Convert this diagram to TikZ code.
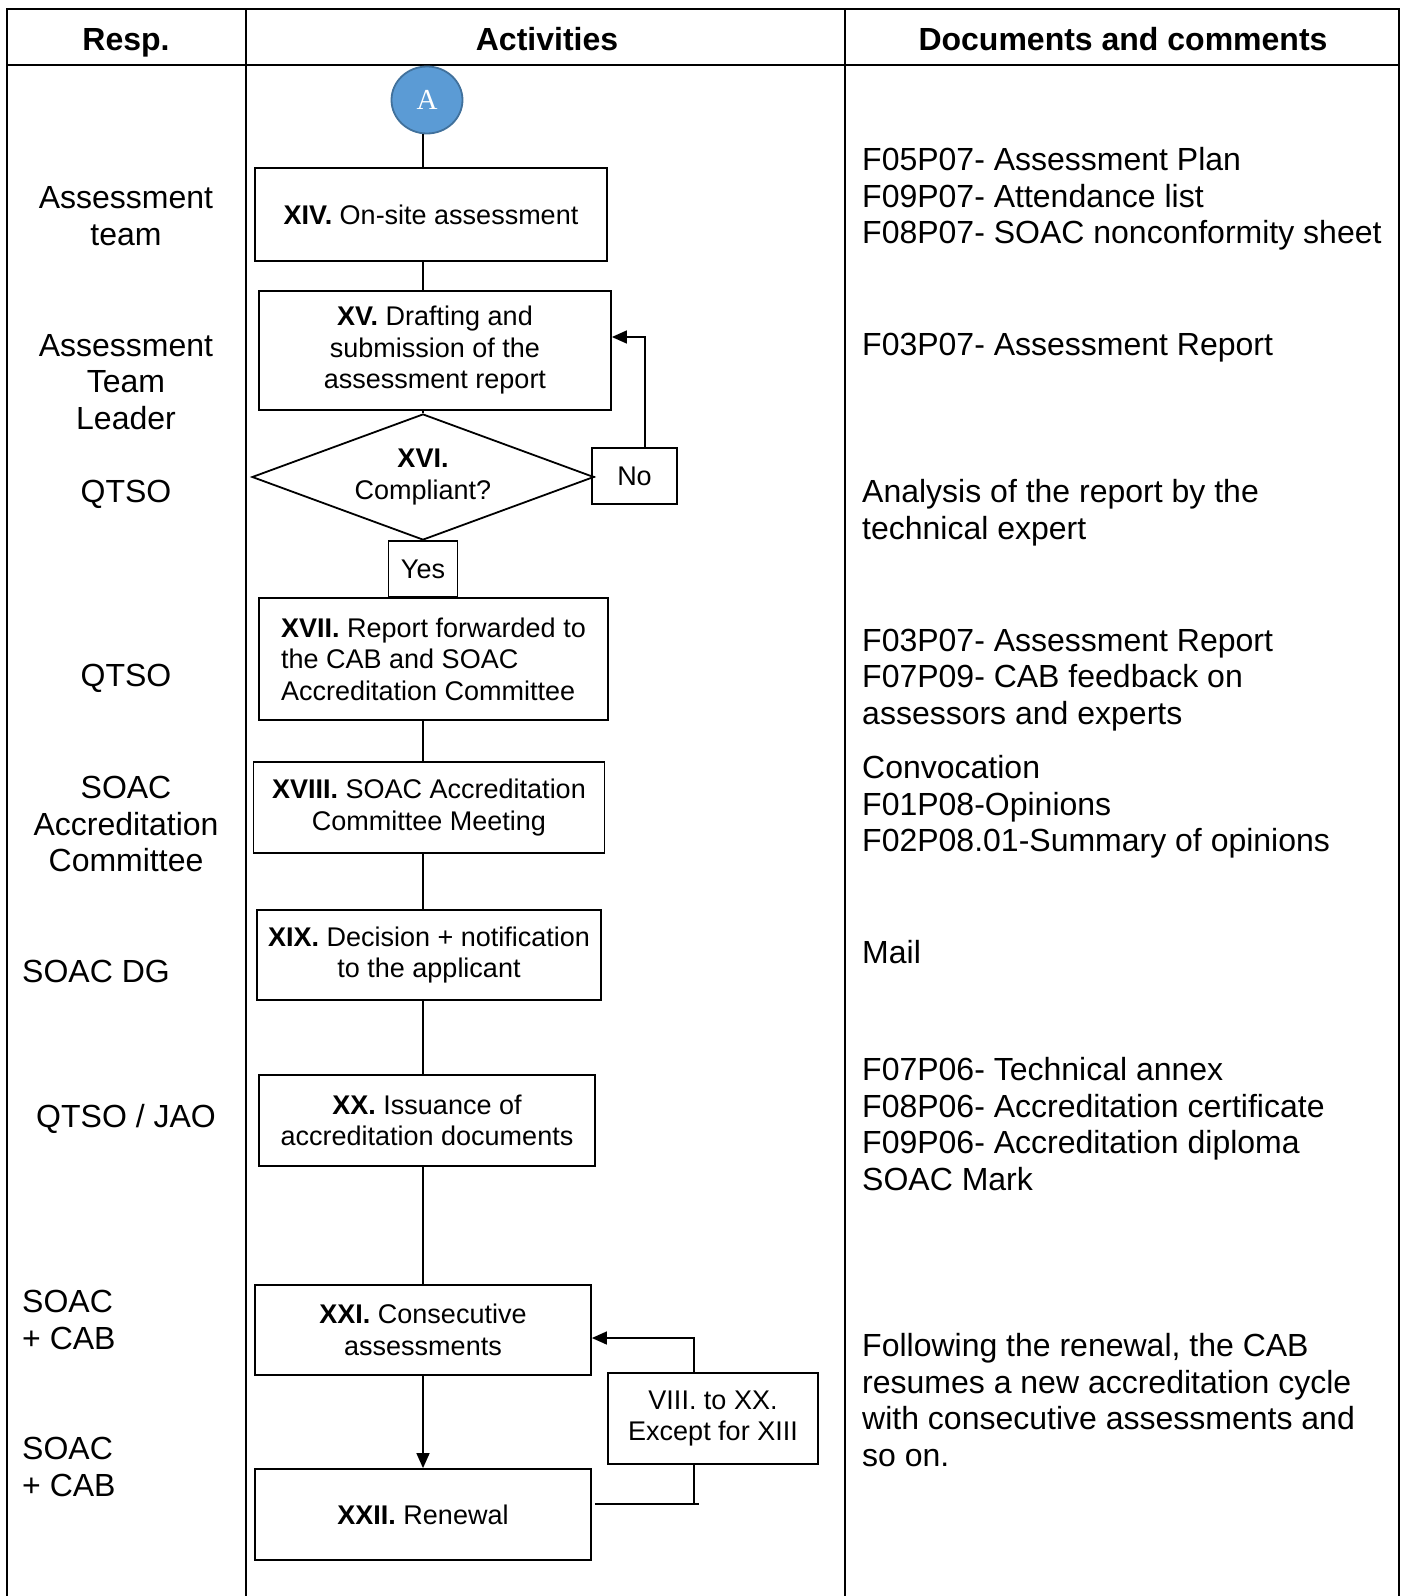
\documentclass[tikz,border=0pt]{standalone}
\usepackage{fontspec}
\setmainfont{Liberation Sans}
\newfontfamily\timesfont{Liberation Serif}
\usetikzlibrary{arrows.meta,shapes.geometric}
\definecolor{cblue}{RGB}{91,155,213}
\definecolor{cdarkblue}{RGB}{65,113,156}
\newcommand{\docfont}{\fontsize{32}{36.7}\selectfont}
\newcommand{\boxfont}{\fontsize{27}{31.5}\selectfont}

\begin{document}
\begin{tikzpicture}[x=1pt,y=-1pt,>={Triangle[length=15pt,width=13pt]},
  table line/.style={line width=2.5pt},
  head node/.style={inner sep=0pt,anchor=base,font=\docfont\bfseries},
  resp node/.style={inner sep=0pt,align=center,font=\docfont},
  doc node/.style={inner sep=0pt,anchor=west,align=left,font=\docfont},
  step node/.style={draw,line width=1.8pt,inner sep=0pt,align=center,font=\boxfont},
  decision node/.style={diamond,aspect=2.714,draw,line width=1.8pt,inner sep=0pt,align=center,font=\boxfont},
  answer node/.style={draw,line width=1.8pt,inner sep=0pt,font=\boxfont},
  start node/.style={ellipse,fill=cblue,draw=cdarkblue,line width=1.8pt,minimum width=71pt,
    minimum height=67pt,inner sep=0pt,text=white,font=\timesfont\fontsize{29}{30}\selectfont}]
  \useasboundingbox (0,0) rectangle (1406,1596);

  % table
  \draw[table line] (7,1596) -- (7,9) -- (1399,9) -- (1399,1596);
  \draw[table line] (7,65) -- (1399,65);
  \draw[table line] (246,9) -- (246,1596);
  \draw[table line] (845,9) -- (845,1596);

  \node[head node] (h1) at (126,50.5) {Resp.};
  \node[head node] (h2) at (547,50.5) {Activities};
  \node[head node] (h3) at (1123,50.5) {Documents and comments};

  % responsibles
  \node[resp node] (r1) at (126,216) {Assessment\\team};
  \node[resp node] (r2) at (126,382) {Assessment\\Team\\Leader};
  \node[resp node] (r3) at (126,494) {QTSO};
  \node[resp node] (r4) at (126,678) {QTSO};
  \node[resp node] (r5) at (126,824) {SOAC\\Accreditation\\Committee};
  \node[resp node,anchor=west] (r6) at (22,971) {SOAC DG};
  \node[resp node] (r7) at (126,1119) {QTSO / JAO};
  \node[resp node,anchor=west,align=left] (r8) at (22,1320) {SOAC\\+ CAB};
  \node[resp node,anchor=west,align=left] (r9) at (22,1467) {SOAC\\+ CAB};

  % documents
  \node[doc node] (d1) at (862,199) {F05P07- Assessment Plan\\F09P07- Attendance list\\F08P07- SOAC nonconformity sheet};
  \node[doc node] (d2) at (862,348) {F03P07- Assessment Report};
  \node[doc node] (d3) at (862,513) {Analysis of the report by the\\technical expert};
  \node[doc node] (d4) at (862,680) {F03P07- Assessment Report\\F07P09- CAB feedback on\\assessors and experts};
  \node[doc node] (d5) at (862,807) {Convocation\\F01P08-Opinions\\F02P08.01-Summary of opinions};
  \node[doc node] (d6) at (862,952) {Mail};
  \node[doc node] (d7) at (862,1124) {F07P06- Technical annex\\F08P06- Accreditation certificate\\F09P06- Accreditation diploma\\SOAC Mark};
  \node[doc node] (d8) at (862,1400) {Following the renewal, the CAB\\resumes a new accreditation cycle\\with consecutive assessments and\\so on.};

  % activities
  \coordinate (spine) at (423,0);
  \node[start node] (A) at (427,100) {A};
  \node[step node,minimum width=352,minimum height=93] (XIV) at (431,214.5) {\textbf{XIV.} On-site assessment};
  \node[step node,minimum width=352,minimum height=119] (XV) at (435,350.5) {\textbf{XV.} Drafting and\\submission of the\\assessment report};
  \node[decision node,minimum width=342,minimum height=126] (XVI) at (423,477) {\textbf{XVI.}\\Compliant?};
  \node[answer node,minimum width=85,minimum height=56] (no) at (634.5,476) {No};
  \node[answer node,minimum width=69,minimum height=56] (yes) at (423,569) {Yes};
  \node[step node,minimum width=349,minimum height=122,align=left] (XVII) at (433.5,659) {\textbf{XVII.} Report forwarded to\\the CAB and SOAC\\Accreditation Committee};
  \node[step node,minimum width=351,minimum height=91] (XVIII) at (429,807.5) {\textbf{XVIII.} SOAC Accreditation\\Committee Meeting};
  \node[step node,minimum width=344,minimum height=90] (XIX) at (429,955) {\textbf{XIX.} Decision + notification\\to the applicant};
  \node[step node,minimum width=336,minimum height=91] (XX) at (427,1120.5) {\textbf{XX.} Issuance of\\accreditation documents};
  \node[step node,minimum width=336,minimum height=90] (XXI) at (423,1330) {\textbf{XXI.} Consecutive\\assessments};
  \node[step node,minimum width=336,minimum height=91] (XXII) at (423,1514.5) {\textbf{XXII.} Renewal};
  \node[step node,minimum width=210,minimum height=91] (VIII) at (713,1418.5) {VIII. to XX.\\Except for XIII};

  \path[line width=1.5pt]
    (A.south -| spine) edge (XIV.north -| spine)
    (XIV.south -| spine) edge (XV.north -| spine)
    (XV.south -| spine) edge (XVI.north)
    (XVI.south) edge (yes.north)
    (yes.south) edge (XVII.north -| spine)
    (XVII.south -| spine) edge (XVIII.north -| spine)
    (XVIII.south -| spine) edge (XIX.north -| spine)
    (XIX.south -| spine) edge (XX.north -| spine)
    (XX.south -| spine) edge (XXI.north -| spine)
    (XXI.south -| spine) edge[->] (XXII.north -| spine)
    (XVI.east) edge (no.west);

  % loops back
  \coordinate (noturn) at (645,337);
  \coordinate (loopup) at (694,1338);
  \coordinate (loopdown) at (694,1504);
  \draw[line width=1.5pt,->] (no.north -| noturn) |- (XV.east |- noturn);
  \draw[line width=1.5pt,->] (VIII.north -| loopup) |- (XXI.east |- loopup);
  \draw[line width=1.5pt] (VIII.south -| loopdown) -- (loopdown);
  \draw[line width=1.5pt] ([xshift=3pt]XXII.east |- loopdown) -- ([xshift=5pt]loopdown);
\end{tikzpicture}
\end{document}
